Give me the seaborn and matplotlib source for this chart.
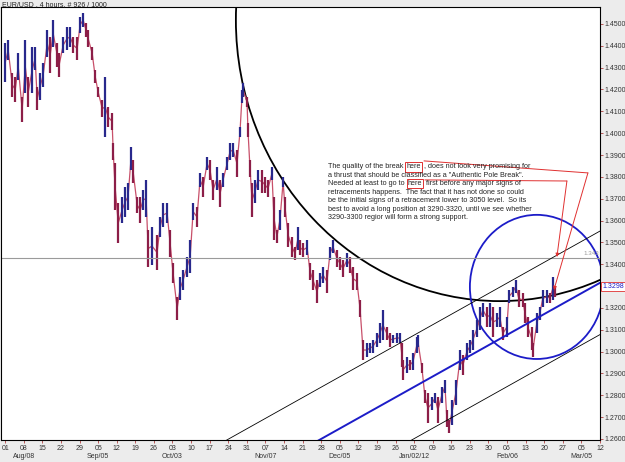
import numpy as np
import matplotlib
matplotlib.use("Agg")
import matplotlib.pyplot as plt
import seaborn as sns
from matplotlib.patches import Ellipse
from matplotlib.transforms import IdentityTransform

# x unit = one week from Aug 01 (MT4 chart, weekends skipped)
bar_week = [0.00, 0.16, 0.38, 0.54, 0.70, 0.91, 1.08, 1.24, 1.45, 1.61, 1.72, 1.88, 2.04, 2.26, 2.42,
            2.58, 2.80, 2.90, 3.12, 3.33, 3.49, 3.66, 3.87, 4.03, 4.19, 4.35, 4.46, 4.68, 4.84, 5.00,
            5.22, 5.38, 5.54, 5.75, 5.81, 5.91, 6.08, 6.29, 6.45, 6.61, 6.77, 6.88, 7.10, 7.26, 7.42,
            7.58, 7.69, 7.90, 8.17, 8.33, 8.49, 8.71, 8.87, 9.03, 9.25, 9.41, 9.57, 9.78, 9.95, 10.11,
            10.32, 10.48, 10.65, 10.86, 11.02, 11.18, 11.40, 11.56, 11.72, 11.94, 12.10, 12.26, 12.47,
            12.63, 12.74, 12.80, 13.01, 13.06, 13.17, 13.28, 13.44, 13.60, 13.82, 13.98, 14.14, 14.35,
            14.46, 14.62, 14.78, 14.95, 15.05, 15.22, 15.43, 15.59, 15.75, 15.86, 16.02, 16.24, 16.40,
            16.56, 16.77, 16.94, 17.10, 17.31, 17.47, 17.63, 17.85, 18.01, 18.17, 18.39, 18.55, 18.71,
            18.92, 19.09, 19.25, 19.46, 19.62, 19.78, 20.00, 20.16, 20.32, 20.54, 20.70, 20.86, 21.08,
            21.24, 21.34, 21.40, 21.61, 21.77, 21.94, 22.15, 22.20, 22.42, 22.58, 22.74, 22.96, 23.12,
            23.28, 23.49, 23.66, 23.76, 23.87, 24.03, 24.25, 24.46, 24.62, 24.84, 25.00, 25.16, 25.38,
            25.54, 25.70, 25.91, 26.08, 26.24, 26.45, 26.61, 26.77, 26.99, 27.10, 27.31, 27.47, 27.63,
            27.85, 27.96, 28.12, 28.33, 28.39, 28.60, 28.76, 28.92, 29.14, 29.30, 29.46, 29.57]
bar_high = [1.4413, 1.4427, 1.4276, 1.4257, 1.4367, 1.4166, 1.4427, 1.4257, 1.4395, 1.4395, 1.4211,
            1.4276, 1.4321, 1.4473, 1.4440, 1.4518, 1.4413, 1.4367, 1.4440, 1.4486, 1.4486, 1.4440,
            1.4440, 1.4532, 1.4550, 1.4505, 1.4473, 1.4395, 1.4289, 1.4211, 1.4152, 1.4257, 1.4120,
            1.4092, 1.3955, 1.3863, 1.3680, 1.3708, 1.3753, 1.3772, 1.3937, 1.3877, 1.3708, 1.3708,
            1.3740, 1.3786, 1.3557, 1.3570, 1.3534, 1.3616, 1.3680, 1.3680, 1.3557, 1.3405, 1.3250,
            1.3341, 1.3373, 1.3433, 1.3511, 1.3680, 1.3662, 1.3818, 1.3799, 1.3891, 1.3877, 1.3786,
            1.3845, 1.3786, 1.3818, 1.3891, 1.3955, 1.3955, 1.3923, 1.4028, 1.4198, 1.4230, 1.4166,
            1.4047, 1.3877, 1.3772, 1.3786, 1.3831, 1.3831, 1.3799, 1.3786, 1.3845, 1.3708, 1.3557,
            1.3648, 1.3799, 1.3708, 1.3589, 1.3524, 1.3479, 1.3570, 1.3511, 1.3497, 1.3511, 1.3405,
            1.3373, 1.3328, 1.3360, 1.3387, 1.3373, 1.3479, 1.3511, 1.3465, 1.3433, 1.3419, 1.3451,
            1.3433, 1.3387, 1.3360, 1.3236, 1.3053, 1.3039, 1.3039, 1.3053, 1.3085, 1.3131, 1.3190,
            1.3112, 1.3085, 1.3076, 1.3085, 1.3085, 1.3039, 1.2961, 1.2975, 1.2961, 1.2993, 1.3066,
            1.3076, 1.2947, 1.2824, 1.2810, 1.2792, 1.2810, 1.2792, 1.2837, 1.2870, 1.2732, 1.2686,
            1.2778, 1.2870, 1.3007, 1.2984, 1.3039, 1.3053, 1.3099, 1.3144, 1.3204, 1.3222, 1.3204,
            1.3222, 1.3204, 1.3176, 1.3204, 1.3112, 1.3158, 1.3282, 1.3295, 1.3328, 1.3282, 1.3268,
            1.3222, 1.3158, 1.3112, 1.3039, 1.3176, 1.3204, 1.3282, 1.3282, 1.3268, 1.3341, 1.3295]
bar_low = [1.4234, 1.4335, 1.4166, 1.4143, 1.4244, 1.4051, 1.4184, 1.4120, 1.4184, 1.4289, 1.4106,
           1.4152, 1.4211, 1.4349, 1.4276, 1.4395, 1.4303, 1.4257, 1.4367, 1.4381, 1.4395, 1.4367,
           1.4335, 1.4459, 1.4486, 1.4440, 1.4395, 1.4335, 1.4230, 1.4166, 1.4074, 1.3982, 1.4028,
           1.4015, 1.3877, 1.3648, 1.3497, 1.3589, 1.3616, 1.3648, 1.3831, 1.3772, 1.3634, 1.3589,
           1.3648, 1.3616, 1.3387, 1.3396, 1.3373, 1.3524, 1.3570, 1.3589, 1.3433, 1.3314, 1.3144,
           1.3236, 1.3282, 1.3341, 1.3360, 1.3602, 1.3570, 1.3753, 1.3708, 1.3831, 1.3786, 1.3694,
           1.3740, 1.3662, 1.3753, 1.3831, 1.3877, 1.3891, 1.3799, 1.3982, 1.4138, 1.4166, 1.4120,
           1.3982, 1.3799, 1.3616, 1.3680, 1.3740, 1.3726, 1.3726, 1.3708, 1.3786, 1.3511, 1.3497,
           1.3557, 1.3753, 1.3616, 1.3479, 1.3433, 1.3419, 1.3465, 1.3442, 1.3433, 1.3442, 1.3328,
           1.3282, 1.3222, 1.3295, 1.3314, 1.3268, 1.3419, 1.3451, 1.3387, 1.3373, 1.3341, 1.3387,
           1.3360, 1.3282, 1.3282, 1.3158, 1.2961, 1.2975, 1.2993, 1.2993, 1.3021, 1.3039, 1.3053,
           1.3053, 1.3021, 1.3039, 1.3039, 1.3039, 1.2929, 1.2870, 1.2902, 1.2915, 1.2915, 1.2993,
           1.3021, 1.2902, 1.2764, 1.2673, 1.2732, 1.2764, 1.2673, 1.2764, 1.2810, 1.2654, 1.2627,
           1.2663, 1.2755, 1.2915, 1.2892, 1.2961, 1.2993, 1.3007, 1.3066, 1.3099, 1.3158, 1.3112,
           1.3112, 1.3066, 1.3112, 1.3112, 1.3053, 1.3066, 1.3222, 1.3250, 1.3268, 1.3204, 1.3204,
           1.3131, 1.3066, 1.3007, 1.2975, 1.3085, 1.3144, 1.3204, 1.3222, 1.3222, 1.3236, 1.3250]

day_labels = ["01", "08", "15", "22", "29", "05", "12", "19", "26", "03", "10", "17", "24", "31",
              "07", "14", "21", "28", "05", "12", "19", "26", "02", "09", "16", "23", "30", "06",
              "13", "20", "27", "05", "12"]
month_labels = ["Aug/08", "Sep/05", "Oct/03", "Nov/07", "Dec/05", "Jan/02/12", "Feb/06", "Mar/05"]
month_weeks = [1, 5, 9, 14, 18, 22, 27, 31]
price_ticks = [1.26, 1.27, 1.28, 1.29, 1.30, 1.31, 1.32, 1.33, 1.34, 1.35, 1.36, 1.37, 1.38,
               1.39, 1.40, 1.41, 1.42, 1.43, 1.44, 1.45]

last_price = 1.3298
level_price = 1.3430

note = [
    [("The quality of the break", False), ("here", True), (", does not look very promising for", False)],
    [("a thrust that should be classified as a \"Authentic Pole Break\".", False)],
    [("Needed at least to go to", False), ("here", True), ("first before any major signs of", False)],
    [("retracements happens.  The fact that it has not done so could", False)],
    [("be the initial signs of a retracement lower to 3050 level.  So its", False)],
    [("best to avoid a long position at 3290-3320, until we see whether", False)],
    [("3290-3300 regior will form a strong support.", False)],
]

sns.set_style("white")
plt.rcParams["font.family"] = ["Liberation Sans", "DejaVu Sans"]

fig = plt.figure(figsize=(6.25, 4.62), dpi=100, facecolor="#ececec")
ax = fig.add_axes([0.0024, 0.0476, 0.9576, 0.9362])
ax.set_facecolor("white")
ax.set_xlim(-0.2, 32.0)
ax.set_ylim(1.2595, 1.45755)

# ==============================
# PRICE BARS
# ==============================
week = np.array(bar_week)
high = np.array(bar_high)
low = np.array(bar_low)
mid = (high + low) / 2
rising = np.r_[True, np.diff(mid) >= 0]

sns.lineplot(x=week, y=mid, color="#c8506a", lw=0.9, ax=ax, estimator=None, sort=False)
ax.vlines(week, low, high, colors=np.where(rising, "#28288c", "#8c1e48"), lw=1.6)

# ==============================
# DRAWN OBJECTS
# ==============================
ax.axhline(level_price, color="#9a9a9a", lw=0.8)
ax.text(31.95, level_price + 0.0006, "1.343", ha="right", va="bottom", fontsize=4.5, color="#9a9a9a")

chan_x = np.array([-0.2, 32.0])
a_w, a_p, b_w, b_p = 17.0, 1.2600, 31.9, 1.3310
chan_mid = a_p + (b_p - a_p) / (b_w - a_w) * (chan_x - a_w)
ax.plot(chan_x, chan_mid, color="#1c1cc8", lw=1.4)
ax.plot(chan_x, chan_mid + 0.0237, color="black", lw=0.6)
ax.plot(chan_x, chan_mid - 0.0237, color="black", lw=0.6)

ax.add_patch(Ellipse((26.6, 1.4518), 28.38, 0.2574, fill=False, ec="black", lw=1.3))
ax.add_patch(Ellipse((28.6, 1.3296), 7.2, 0.066, fill=False, ec="#1c1cc8", lw=1.3))

red = "#e03030"
ax.plot([22.53, 31.35], [1.3873, 1.3818], color=red, lw=0.7)
ax.annotate("", xy=(29.52, 1.3282), xytext=(31.35, 1.3818),
            arrowprops=dict(arrowstyle="-|>", color=red, lw=0.7, mutation_scale=5, shrinkA=0, shrinkB=0))
ax.plot([22.58, 30.22], [1.3786, 1.3781], color=red, lw=0.7)
ax.annotate("", xy=(29.68, 1.3433), xytext=(30.22, 1.3781),
            arrowprops=dict(arrowstyle="-|>", color=red, lw=0.7, mutation_scale=5, shrinkA=0, shrinkB=0))

# note text, pieces placed one after another so the "here" boxes fit the words
renderer = fig.canvas.get_renderer()
for i, pieces in enumerate(note):
    x = 328
    y = 462 - 168.5 - 8.45 * i
    for text, boxed in pieces:
        t = fig.text(x, y, text, transform=IdentityTransform(), fontsize=5.25, va="baseline", ha="left")
        if boxed:
            t.set_bbox(dict(boxstyle="square,pad=0.15", fc="none", ec=red, lw=0.7))
        x = t.get_window_extent(renderer).x1 + (3.6 if boxed else 3.0)

# ==============================
# AXES
# ==============================
ax.set_xticks(range(len(day_labels)))
ax.set_xticklabels(day_labels)
ax.yaxis.tick_right()
ax.set_yticks(price_ticks)
# the 1.3300 label sits under the last-price box
ax.set_yticklabels(["" if abs(p - last_price) < 0.005 else f"{p:.4f}" for p in price_ticks])
ax.tick_params(axis="x", bottom=True, length=2, width=0.6, color="#b04040", labelsize=5,
               labelcolor="#333333", pad=1.5)
ax.tick_params(axis="y", left=False, right=True, labelleft=False, labelright=True, length=2,
               width=0.6, color="#b04040", labelsize=5, labelcolor="#333333", pad=1)
for w, lab in zip(month_weeks, month_labels):
    ax.text(w, -0.037, lab, transform=ax.get_xaxis_transform(), ha="center", va="center",
            fontsize=5, color="#333333")

ax.text(1.004, last_price, f"{last_price:.4f}", transform=ax.get_yaxis_transform(), ha="left",
        va="center", fontsize=5, color="#1c1cc8",
        bbox=dict(boxstyle="square,pad=0.15", fc="white", ec=red, lw=0.6))

for s in ax.spines.values():
    s.set_color("black")
    s.set_linewidth(0.8)

fig.text(0.003, 0.991, "EUR/USD , 4 hours, # 926 / 1000", fontsize=5, va="center", ha="left",
         color="#222222")

fig.savefig("out.png", dpi=100, facecolor=fig.get_facecolor())
